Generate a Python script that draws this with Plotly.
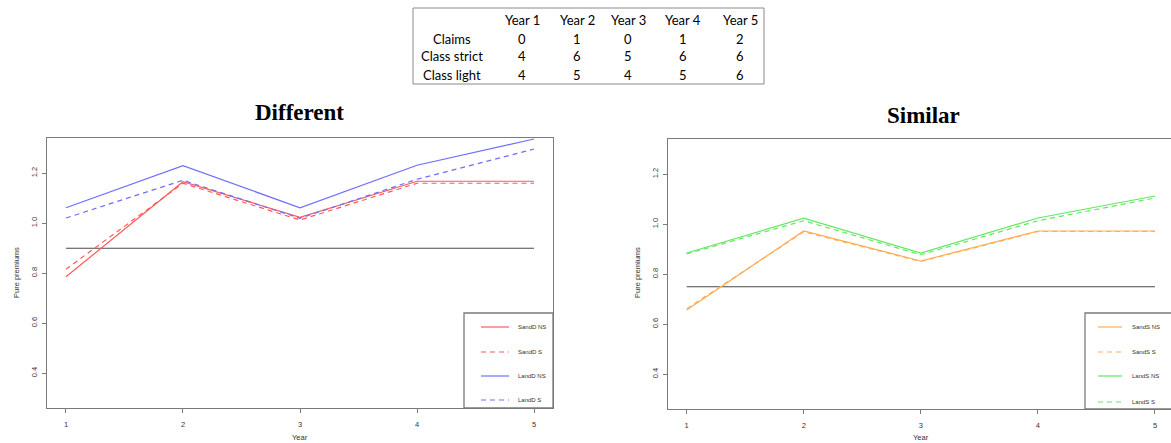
import plotly.graph_objects as go

W, H = 1171, 443

# ---------------- data ----------------
years = [1, 2, 3, 4, 5]

sandD_NS = [0.786, 1.166, 1.024, 1.168, 1.168]
sandD_S = [0.816, 1.160, 1.013, 1.160, 1.160]
landD_NS = [1.062, 1.230, 1.062, 1.232, 1.337]
landD_S = [1.021, 1.172, 1.020, 1.176, 1.297]
base_diff = 0.9

sandS_NS = [0.657, 0.973, 0.853, 0.973, 0.973]
sandS_S = [0.662, 0.970, 0.851, 0.971, 0.971]
landS_NS = [0.885, 1.024, 0.885, 1.025, 1.113]
landS_S = [0.881, 1.014, 0.878, 1.014, 1.105]
base_sim = 0.75

y_ticks = [0.4, 0.6, 0.8, 1.0, 1.2]
y_ticktext = ["0.4", "0.6", "0.8", "1.0", "1.2"]

left_names = ["SandD NS", "SandD S", "LandD NS", "LandD S"]
right_names = ["SandS NS", "SandS S", "LandS NS", "LandS S"]

table_cols = ["Year 1", "Year 2", "Year 3", "Year 4", "Year 5"]
table_rows = ["Claims", "Class strict", "Class light"]
claims = [0, 1, 0, 1, 2]
class_strict = [4, 6, 5, 6, 6]
class_light = [4, 5, 4, 5, 6]

# ---------------- styles ----------------
RED = "#ff5a5a"
BLUE = "#6e6eff"
ORANGE = "#ffad55"
GREEN = "#62e862"
BASE = "#4a4a4a"
FRAME = "#7a7a7a"
DASH = "5px,4px"
LW = 1.2


def px(x):
    return x / W


def py(y):
    return 1 - y / H


fig = go.Figure()

left_series = [(sandD_NS, RED, "solid"), (sandD_S, RED, DASH),
               (landD_NS, BLUE, "solid"), (landD_S, BLUE, DASH)]
right_series = [(sandS_NS, ORANGE, "solid"), (sandS_S, ORANGE, DASH),
                (landS_NS, GREEN, "solid"), (landS_S, GREEN, DASH)]

fig.add_trace(go.Scatter(x=[years[0], years[-1]], y=[base_diff, base_diff], mode="lines",
                         line=dict(color=BASE, width=LW), xaxis="x", yaxis="y", showlegend=False))
for (vals, col, dash), name in zip(left_series, left_names):
    fig.add_trace(go.Scatter(x=years, y=vals, mode="lines", name=name,
                             line=dict(color=col, width=LW, dash=dash),
                             xaxis="x", yaxis="y", showlegend=False))

fig.add_trace(go.Scatter(x=[years[0], years[-1]], y=[base_sim, base_sim], mode="lines",
                         line=dict(color=BASE, width=LW), xaxis="x2", yaxis="y2", showlegend=False))
for (vals, col, dash), name in zip(right_series, right_names):
    fig.add_trace(go.Scatter(x=years, y=vals, mode="lines", name=name,
                             line=dict(color=col, width=LW, dash=dash),
                             xaxis="x2", yaxis="y2", showlegend=False))

tickfont = dict(family="Liberation Sans, Arial, sans-serif", size=7.5, color="#333")
common_x = dict(tickvals=years, ticks="outside", ticklen=4, tickcolor=FRAME, tickwidth=1,
                showline=True, linecolor=FRAME, linewidth=1.3, showgrid=False, zeroline=False,
                tickfont=tickfont, ticklabelstandoff=5, fixedrange=True)
common_y = dict(range=[0.261, 1.341], tickvals=y_ticks, ticktext=y_ticktext, tickangle=-90,
                ticks="outside", ticklen=4, tickcolor=FRAME, tickwidth=1,
                showline=True, linecolor=FRAME, linewidth=1.3, showgrid=False, zeroline=False,
                tickfont=tickfont, ticklabelstandoff=2, fixedrange=True)

fig.update_layout(
    width=W, height=H, margin=dict(l=0, r=0, t=0, b=0),
    paper_bgcolor="white", plot_bgcolor="white", showlegend=False,
    xaxis=dict(domain=[px(47), px(553)], range=[0.838, 5.162], anchor="y", mirror=True, **common_x),
    yaxis=dict(domain=[py(408), py(138)], anchor="x", mirror=True, **common_y),
    xaxis2=dict(domain=[px(667.7), 1.0], range=[0.838, 5.137], anchor="y2", mirror=True, **common_x),
    yaxis2=dict(domain=[py(409), py(139)], anchor="x2", mirror=False, **common_y),
)

ann = []
shapes = []

# titles
title_font = dict(family="Liberation Serif, Times New Roman, serif", size=23, color="#000")
ann.append(dict(text="<b>Different</b>", x=px(300), y=py(113), xref="paper", yref="paper",
                showarrow=False, font=title_font, xanchor="center", yanchor="middle"))
ann.append(dict(text="<b>Similar</b>", x=px(923), y=py(115), xref="paper", yref="paper",
                showarrow=False, font=title_font, xanchor="center", yanchor="middle"))

# axis titles
lab_font = dict(family="Liberation Sans, Arial, sans-serif", size=7.5, color="#333")
for xc in (16, 637):
    ann.append(dict(text="Pure premiums", x=px(xc), y=py(273), xref="paper", yref="paper",
                    showarrow=False, font=lab_font, textangle=-90, xanchor="center", yanchor="middle"))
ann.append(dict(text="Year", x=px(300), y=py(437), xref="paper", yref="paper", showarrow=False,
                font=lab_font, xanchor="center", yanchor="middle"))
ann.append(dict(text="Year", x=px(921), y=py(437.5), xref="paper", yref="paper", showarrow=False,
                font=lab_font, xanchor="center", yanchor="middle"))

# legends (manual, R-style)
leg_font = dict(family="Liberation Sans, Arial, sans-serif", size=6, color="#333")


def legend(x0, x1, y0, y1, sx0, sx1, tx, ys, series, names):
    shapes.append(dict(type="rect", xref="paper", yref="paper", x0=px(x0), x1=px(x1),
                       y0=py(y1), y1=py(y0), line=dict(color=FRAME, width=1.3),
                       fillcolor="white", layer="above"))
    for (vals, col, dash), name, yy in zip(series, names, ys):
        shapes.append(dict(type="line", xref="paper", yref="paper", x0=px(sx0), x1=px(sx1),
                           y0=py(yy), y1=py(yy), line=dict(color=col, width=LW, dash=dash),
                           layer="above"))
        ann.append(dict(text=name, x=px(tx), y=py(yy), xref="paper", yref="paper",
                        showarrow=False, font=leg_font, xanchor="left", yanchor="middle"))


legend(464, 553, 313, 408, 481, 509, 516, [327, 352, 376, 400], left_series, left_names)
legend(1085, 1175, 313, 409, 1098, 1122, 1130, [327, 352, 376, 402], right_series, right_names)

# table
tab_font = dict(family="Lato, Carlito, sans-serif", size=13, color="#000")
shapes.append(dict(type="rect", xref="paper", yref="paper", x0=px(413), x1=px(764),
                   y0=py(84), y1=py(8), line=dict(color="#8a8a8a", width=1)))
col_x = [522, 577, 628, 683, 740]
row_y = [38.5, 56.5, 74.5]
for cx, c in zip(col_x, table_cols):
    ann.append(dict(text=c, x=px(cx), y=py(20), xref="paper", yref="paper", showarrow=False,
                    font=tab_font, xanchor="center", yanchor="middle"))
for ry, rname, vals in zip(row_y, table_rows, [claims, class_strict, class_light]):
    ann.append(dict(text=rname, x=px(452), y=py(ry), xref="paper", yref="paper", showarrow=False,
                    font=tab_font, xanchor="center", yanchor="middle"))
    for cx, v in zip(col_x, vals):
        ann.append(dict(text=str(v), x=px(cx), y=py(ry), xref="paper", yref="paper",
                        showarrow=False, font=tab_font, xanchor="center", yanchor="middle"))

fig.update_layout(annotations=ann, shapes=shapes)
fig.write_html("out.html")
